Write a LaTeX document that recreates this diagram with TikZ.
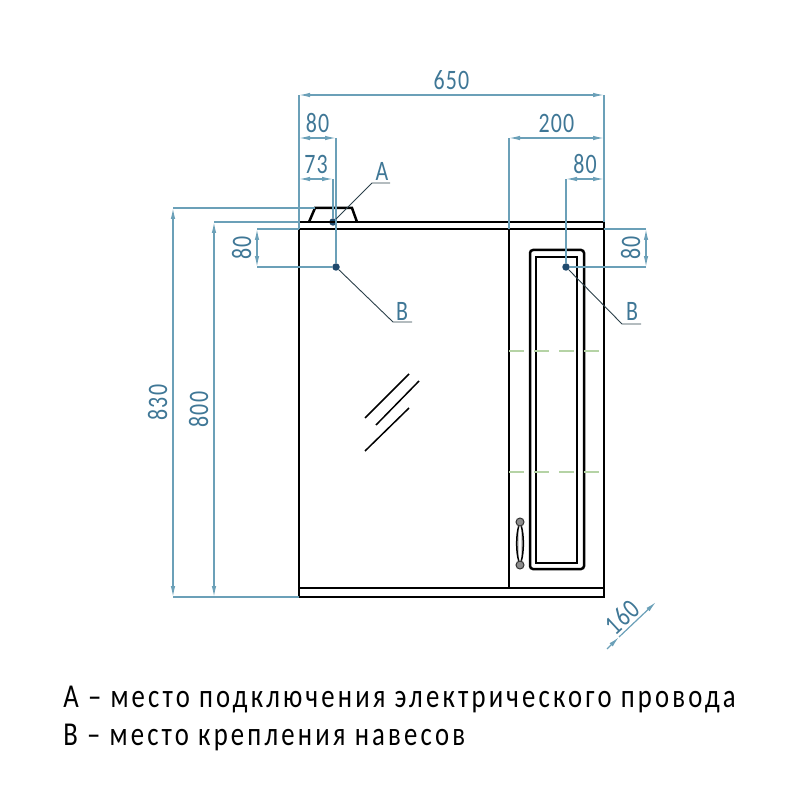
\documentclass[tikz,border=0pt]{standalone}
\usepackage{fontspec}
\setmainfont{Carlito}
\newfontfamily\notefont[LetterSpace=9.5,FakeStretch=0.8]{Carlito}
\newfontfamily\dimfont[LetterSpace=4,FakeStretch=0.78]{Carlito}
\usetikzlibrary{arrows.meta}
\definecolor{dimblue}{HTML}{6BA0B8}
\definecolor{dimtext}{HTML}{3F7796}
\definecolor{dotblue}{HTML}{1F4A6E}
\definecolor{hingegreen}{HTML}{B5D3A5}
\tikzstyle{body} = [line width=0.05cm,black]
\tikzstyle{outline} = [line width=0.03cm,black]
\tikzstyle{dimline} = [line width=0.024cm,dimblue]
\tikzstyle{dimarrow} = [dimline,{Latex[length=0.22cm,width=0.09cm]}-{Latex[length=0.22cm,width=0.09cm]}]
\tikzstyle{dimtip} = [dimline,-{Latex[length=0.22cm,width=0.09cm]}]
\tikzstyle{leader} = [line width=0.018cm,black!60!dimblue]
\tikzstyle{shelf} = [line width=0.025cm,hingegreen,dash pattern=on 0.3cm off 0.2cm]
\tikzstyle{dimlabel} = [font=\dimfont\fontsize{16}{17}\selectfont,text=dimtext,inner sep=0pt]
\tikzstyle{point} = [circle,fill=dotblue,inner sep=0pt,minimum size=0.15cm]
\tikzstyle{knob} = [circle,draw=black!80,fill=black!45,line width=0.02cm,inner sep=0pt,minimum size=0.16cm]
\tikzstyle{note} = [font=\notefont\fontsize{19}{20}\selectfont,inner sep=0pt,anchor=west]

\begin{document}
\begin{tikzpicture}[x=0.02cm,y=-0.02cm]
  \useasboundingbox (0,0) rectangle (800,800);

  % points where the dimensions end
  \node[point] (dotA) at (333,222) {};
  \node[point] (dotB) at (336,267) {};
  \node[point] (dotC) at (566,267) {};
  \coordinate (tl) at (299,222);
  \coordinate (tr) at (604,222);
  \coordinate (bl) at (299,597);

  % body of the cabinet
  \draw[outline] (tl) rectangle (604,597);
  \draw[body] (299,229) -- (604,229);
  \draw[body] (299,588) -- (604,588);
  \draw[body] (299,229) -- (299,597);
  \draw[body] (509,229) -- (509,588);
  \draw[body] (309,222) -- (315,208) -- (352,208) -- (357,222);
  % door
  \draw[body,rounded corners=0.06cm] (530,250) rectangle (584,569);
  \draw[body] (536,257) rectangle (577,563);
  \node[knob] (knobtop) at (520,522) {};
  \node[knob] (knobbot) at (520,565) {};
  \draw[outline,fill=black!30] (knobtop) .. controls (516,535) and (516,552) .. (knobbot)
    .. controls (524,552) and (524,535) .. (knobtop);
  % mirror
  \draw[outline] (365,418) -- (409,374);
  \draw[outline] (376,425) -- (419,381);
  \draw[outline] (365,451) -- (409,408);
  % shelves
  \draw[shelf] (509,351) -- (604,351);
  \draw[shelf] (509,472) -- (604,472);

  % extension lines
  \coordinate (a650l) at (299,95);
  \coordinate (a650r) at (604,95);
  \coordinate (a80l) at (299,138);
  \coordinate (a80r) at (336,138);
  \coordinate (a73l) at (299,179);
  \coordinate (a73r) at (333,179);
  \coordinate (a200l) at (509,138);
  \coordinate (a200r) at (604,138);
  \coordinate (b80l) at (566,179);
  \coordinate (b80r) at (604,179);
  \coordinate (c80t) at (257,229);
  \coordinate (c80b) at (257,267);
  \coordinate (d80t) at (646,229);
  \coordinate (d80b) at (646,267);
  \coordinate (a830t) at (173,208);
  \coordinate (a830b) at (173,597);
  \coordinate (a800t) at (214,222);
  \coordinate (a800b) at (214,597);
  \path[dimline]
  (a650l) edge (299,229)
  (a650r) edge (tr)
  (a80r) edge (dotB)
  (a73r) edge (dotA)
  (a200l) edge (509,229)
  (b80l) edge (dotC)
  (c80t) edge (299,229)
  (c80b) edge (dotB)
  (d80t) edge (604,229)
  (d80b) edge (dotC)
  (a830t) edge (315,208)
  (a800t) edge (tl)
  (a830b) edge (bl)
  ;

  % dimensions
  \draw[dimarrow] (a650l) -- node[dimlabel,above=0.1cm] (t650) {650} (a650r);
  \draw[dimarrow] (a80l) -- node[dimlabel,above=0.1cm] (t80a) {80} (a80r);
  \draw[dimarrow] (a73l) -- node[dimlabel,above=0.1cm] (t73) {73} (a73r);
  \draw[dimarrow] (a200l) -- node[dimlabel,above=0.1cm] (t200) {200} (a200r);
  \draw[dimarrow] (b80l) -- node[dimlabel,above=0.1cm] (t80b) {80} (b80r);
  \draw[dimarrow] (c80t) -- node[dimlabel,rotate=90,above=0.1cm] (t80c) {80} (c80b);
  \draw[dimarrow] (d80t) -- node[dimlabel,rotate=90,above=0.1cm] (t80d) {80} (d80b);
  \draw[dimarrow] (a830t) -- node[dimlabel,rotate=90,above=0.1cm] (t830) {830} (a830b);
  \draw[dimarrow] (a800t) -- node[dimlabel,rotate=90,above=0.1cm] (t800) {800} (a800b);
  \coordinate (e160a) at (607,649);
  \coordinate (e160m) at (619,637);
  \coordinate (e160b) at (656,602);
  \draw[dimtip] (e160a) -- (e160m);
  \draw[dimtip] (e160m) -- (e160b);
  \node[dimlabel,rotate=43] (t160) at (622,617) {160};

  % leaders
  \node[dimlabel] (labA) at (382,171) {A};
  \node[dimlabel] (labB) at (402,311) {B};
  \node[dimlabel] (labC) at (632,311) {B};
  \draw[leader] (dotA) -- (372,183) -- (390,183);
  \draw[leader] (dotB) -- (393,322) -- (412,322);
  \draw[leader] (dotC) -- (622,324) -- (641,324);

  % notes below
  \node[note] (noteA) at (63,700) {A – место подключения электрического провода};
  \node[note] (noteB) at (63,737) {B – место крепления навесов};
\end{tikzpicture}
\end{document}
